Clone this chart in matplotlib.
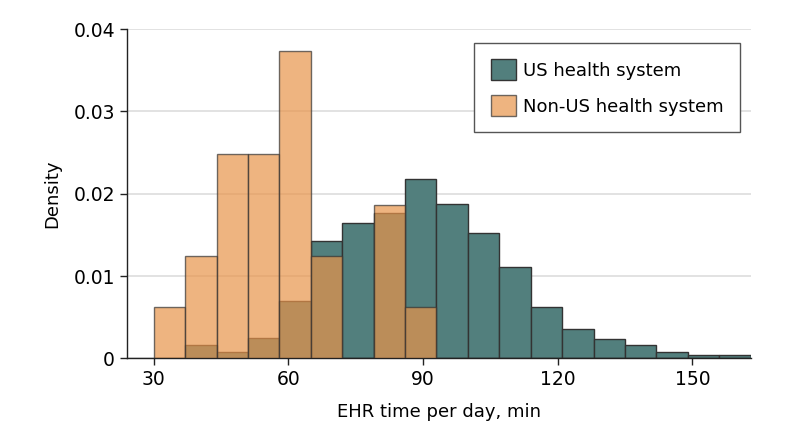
import numpy as np
import matplotlib
matplotlib.use("Agg")
import matplotlib.pyplot as plt

# bin edges, 7 min wide starting at 30
bin_start = 30
bin_width = 7
n_bins = 19

# densities
us_density = [0, 0.0016, 0.0008, 0.0025, 0.0070, 0.0143, 0.0164, 0.0177, 0.0218,
              0.0188, 0.0152, 0.0111, 0.0062, 0.0036, 0.0024, 0.0016, 0.0008,
              0.0004, 0.0004]
non_us_density = [0.0062, 0.0124, 0.0248, 0.0248, 0.0373, 0.0124, 0, 0.0186, 0.0062,
                  0, 0, 0, 0, 0, 0, 0, 0, 0, 0]

edges = bin_start + bin_width * np.arange(n_bins + 1)
lefts = edges[:-1]

plt.rcParams['font.family'] = ['DejaVu Sans']

fig = plt.figure(figsize=(7.94, 4.41), dpi=100)
ax = fig.add_axes([0.1596, 0.1875, 0.9455 - 0.1596, 0.934 - 0.1875])

ax.bar(lefts, us_density, width=bin_width, align='edge', color='#527f7d',
       edgecolor='#333333', linewidth=1.0, label='US health system', zorder=2)
ax.bar(lefts, non_us_density, width=bin_width, align='edge', color='#e8944a',
       alpha=0.7, edgecolor='#333333', linewidth=1.0,
       label='Non-US health system', zorder=3)

ax.set_xlim(24, 163)
ax.set_ylim(0, 0.04)
ax.set_xticks([30, 60, 90, 120, 150])
ax.set_yticks([0, 0.01, 0.02, 0.03, 0.04])
ax.set_yticklabels(['0', '0.01', '0.02', '0.03', '0.04'])
ax.tick_params(labelsize=13.5, length=5, width=1, color='#222222', direction='out')
ax.yaxis.grid(True, color='#dddddd', linewidth=1.2, zorder=0)
ax.set_axisbelow(True)

for s in ['top', 'right']:
    ax.spines[s].set_visible(False)
for s in ['left', 'bottom']:
    ax.spines[s].set_color('#222222')
    ax.spines[s].set_linewidth(1.0)

ax.set_xlabel('EHR time per day, min', fontsize=13, labelpad=10)
ax.set_ylabel('Density', fontsize=13, labelpad=9)

leg = ax.legend(loc='upper right', bbox_to_anchor=(0.983, 0.958), fontsize=13,
                fancybox=False, edgecolor='#555555', framealpha=1,
                handlelength=1.4, handleheight=1.4, borderpad=0.9,
                labelspacing=0.85, handletextpad=0.4, borderaxespad=0)
leg.get_frame().set_linewidth(1.0)

fig.savefig('out.png', dpi=100)
